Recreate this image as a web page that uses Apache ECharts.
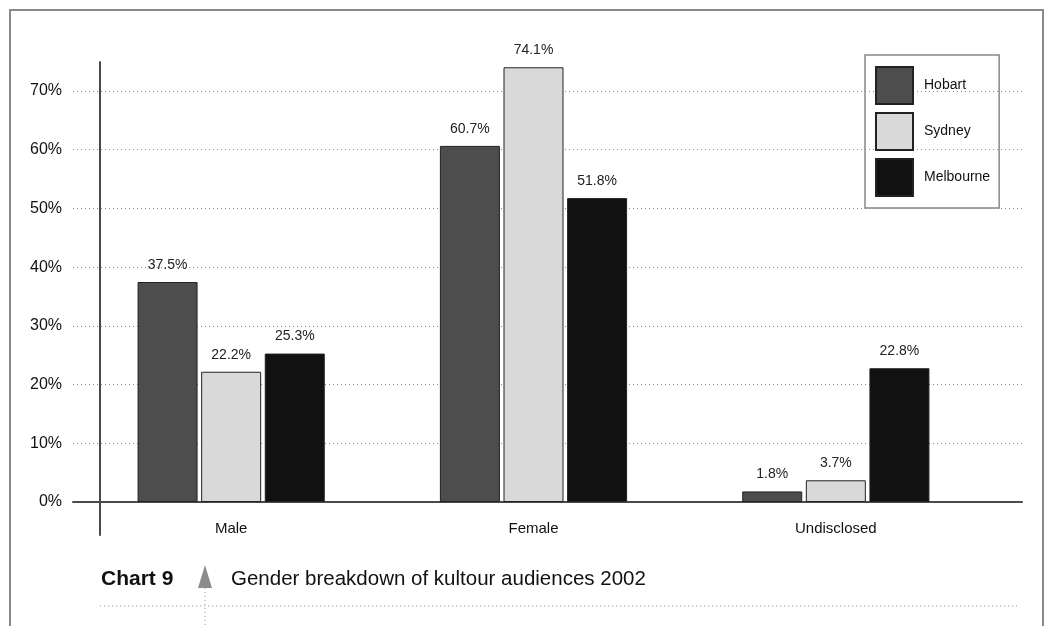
<!DOCTYPE html>
<html>
<head>
<meta charset="utf-8">
<script src="https://cdn.jsdelivr.net/npm/echarts@6/dist/echarts.min.js"></script>
<style>
  html, body { margin: 0; padding: 0; background: #fff; }
  #show_picture { width: 1050px; height: 626px; }
</style>
</head>
<body>
<div id="show_picture"></div>
<script>
// data
const categories = ['Male', 'Female', 'Undisclosed'];
const cities = ['Hobart', 'Sydney', 'Melbourne'];
const hobart = [37.5, 60.7, 1.8];
const sydney = [22.2, 74.1, 3.7];
const melbourne = [25.3, 51.8, 22.8];
const yTicks = [0, 10, 20, 30, 40, 50, 60, 70];

const colors = ['#4d4d4d', '#d9d9d9', '#111111'];
const font = "'Liberation Sans Narrow', 'Liberation Sans', sans-serif";

let myChart = echarts.init(document.getElementById('show_picture'));

function barSeries(name, values, i) {
    return {
        name: name,
        type: 'bar',
        xAxisIndex: 0,
        yAxisIndex: 0,
        barWidth: 60,
        barGap: '6%',
        data: values,
        itemStyle: { color: colors[i], borderColor: '#222', borderWidth: 1 },
        label: {
            show: true,
            position: 'top',
            distance: 10,
            fontFamily: font,
            fontSize: 14,
            color: '#222',
            formatter: p => p.value.toFixed(1) + '%'
        },
        z: 3
    };
}

let option = {
    animation: false,
    textStyle: { fontFamily: font },
    title: [
        {
            text: 'Chart 9', left: 101, top: 569, padding: 0,
            textStyle: { fontFamily: font, fontSize: 21, fontWeight: 'bold', color: '#111' }
        },
        {
            text: 'Gender breakdown of kultour audiences 2002', left: 231, top: 569, padding: 0,
            textStyle: { fontFamily: font, fontSize: 20.5, fontWeight: 'normal', color: '#111' }
        }
    ],
    legend: {
        orient: 'vertical',
        left: 865,
        top: 55,
        data: cities,
        padding: [11, 9, 11, 10],
        itemWidth: 37,
        itemHeight: 37,
        itemGap: 7,
        icon: 'rect',
        borderColor: '#888',
        borderWidth: 1.5,
        textStyle: { fontFamily: font, fontSize: 14, color: '#111', padding: [0, 0, 0, 6] }
    },
    grid: [
        // bars
        { left: 80, right: 63, top: 62, bottom: 124 },
        // gridlines, y labels, baseline
        { left: 73, right: 28, top: 91, bottom: 124 },
        // tall vertical axis line
        { left: 100, width: 1, top: 62, bottom: 91 }
    ],
    xAxis: [
        {
            gridIndex: 0, type: 'category', data: categories,
            axisLine: { show: false }, axisTick: { show: false },
            axisLabel: { fontFamily: font, fontSize: 15, color: '#111', margin: 19 }
        },
        {
            gridIndex: 1, type: 'value', min: 0, max: 1,
            axisLine: { show: true, lineStyle: { color: '#4a4a4a', width: 2 } },
            axisTick: { show: false }, axisLabel: { show: false }, splitLine: { show: false }
        },
        {
            gridIndex: 2, type: 'value', min: 0, max: 1, show: false
        }
    ],
    yAxis: [
        {
            gridIndex: 0, type: 'value', min: 0, max: 75, show: false
        },
        {
            gridIndex: 1, type: 'value', min: yTicks[0], max: yTicks[yTicks.length - 1], interval: 10,
            axisLine: { show: false }, axisTick: { show: false },
            axisLabel: { fontFamily: font, fontSize: 16, color: '#111', margin: 11, formatter: '{value}%' },
            splitLine: { show: true, lineStyle: { color: '#888', type: [1, 3], width: 1 } }
        },
        {
            gridIndex: 2, type: 'value', min: 0, max: 1,
            axisLine: { show: true, lineStyle: { color: '#4a4a4a', width: 2 } },
            axisTick: { show: false }, axisLabel: { show: false }, splitLine: { show: false }
        }
    ],
    graphic: [
        {
            type: 'polyline', silent: true,
            shape: { points: [[10, 626], [10, 10], [1043, 10], [1043, 626]] },
            style: { stroke: '#8a8a8a', lineWidth: 2, fill: null }
        },
        {
            type: 'line', silent: true,
            shape: { x1: 100, y1: 606, x2: 1018, y2: 606 },
            style: { stroke: '#999', lineWidth: 1, lineDash: [1, 3] }
        },
        {
            type: 'line', silent: true,
            shape: { x1: 205, y1: 588, x2: 205, y2: 626 },
            style: { stroke: '#999', lineWidth: 1, lineDash: [1, 3] }
        },
        {
            type: 'polygon', silent: true,
            shape: { points: [[205, 565], [198, 588], [212, 588]] },
            style: { fill: '#8c8c8c' }
        }
    ],
    series: [
        barSeries(cities[0], hobart, 0),
        barSeries(cities[1], sydney, 1),
        barSeries(cities[2], melbourne, 2)
    ]
};

option && myChart.setOption(option);
</script>
</body>
</html>
